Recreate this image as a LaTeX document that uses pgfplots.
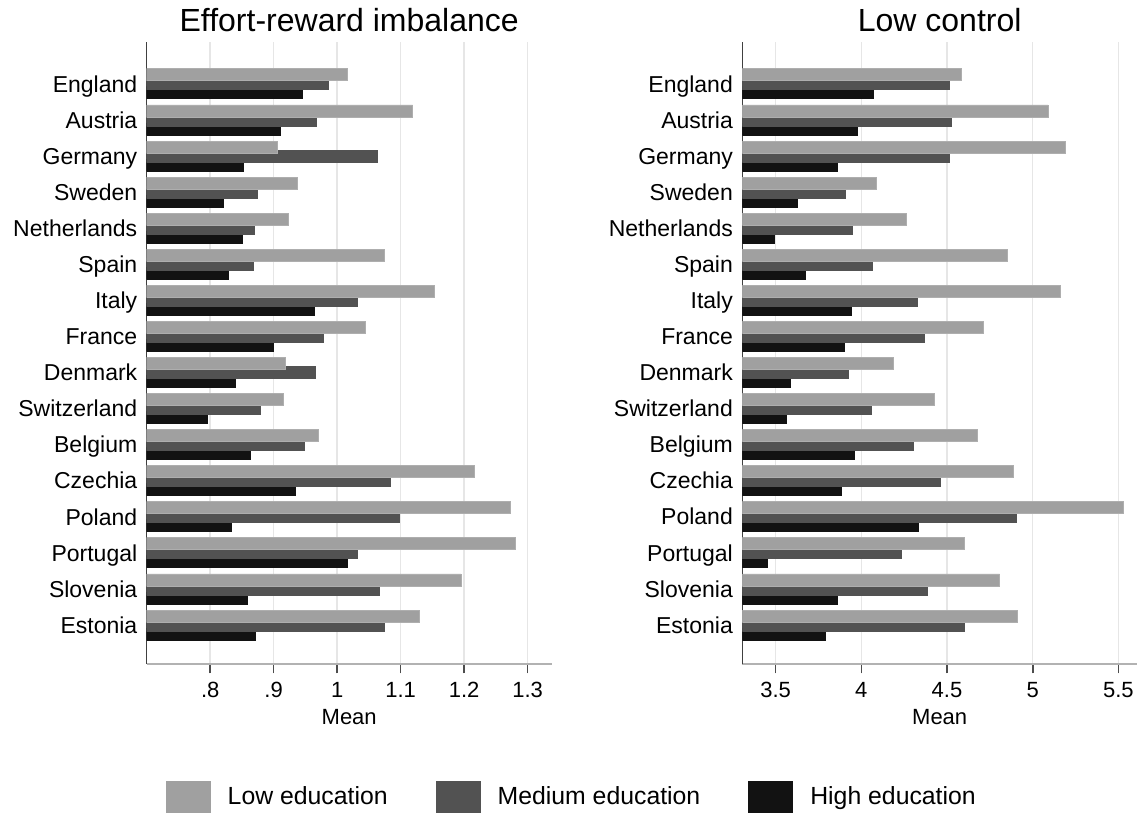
\documentclass[border=0pt]{standalone}
\usepackage{pgfplots}
\pgfplotsset{compat=1.18}
\usepackage{pgfplotstable}
\usepackage{fontspec}
\setmainfont{Liberation Sans}

\definecolor{lowc}{HTML}{A0A0A0}
\definecolor{medc}{HTML}{525252}
\definecolor{highc}{HTML}{121212}
\definecolor{gridc}{HTML}{E6E6E6}

% pos: 16 = England (top) ... 1 = Estonia (bottom)
\pgfplotstableread{
pos eriLow eriMed eriHigh lcLow lcMed lcHigh
16 1.016 0.987 0.946 4.586 4.516 4.070
15 1.119 0.968 0.911 5.089 4.527 3.977
14 0.906 1.064 0.853 5.189 4.516 3.858
13 0.937 0.875 0.821 4.088 3.907 3.625
12 0.924 0.870 0.851 4.265 3.947 3.490
11 1.075 0.868 0.829 4.850 4.064 3.671
10 1.154 1.032 0.964 5.160 4.327 3.942
9  1.045 0.979 0.900 4.714 4.370 3.899
8  0.919 0.965 0.840 4.189 3.924 3.589
7  0.916 0.879 0.796 4.428 4.058 3.560
6  0.970 0.948 0.864 4.679 4.305 3.959
5  1.217 1.084 0.934 4.885 4.463 3.881
4  1.273 1.098 0.834 5.529 4.903 4.333
3  1.281 1.032 1.016 4.603 4.233 3.453
2  1.195 1.067 0.859 4.807 4.385 3.858
1  1.129 1.075 0.872 4.909 4.603 3.788
}\data

\pgfplotsset{
  panel/.style={
    xbar, scale only axis, height=311pt,
    bar width=6pt,
    ymin=-0.08, ymax=17.16,
    ytick={1,...,16},
    yticklabels={Estonia,Slovenia,Portugal,Poland,Czechia,Belgium,Switzerland,Denmark,France,Italy,Spain,Netherlands,Sweden,Germany,Austria,England},
    axis x line*=bottom, axis y line*=left,
    x axis line style={-, draw=black!30, line width=0.7pt},
    y axis line style={-, draw=black!75, line width=0.8pt},
    xmajorgrids, grid style={gridc, line width=0.7pt},
    tick align=outside, major tick length=4.7pt,
    xtick style={draw=black!70, line width=0.8pt},
    ytick style={draw=none},
    /pgf/number format/assume math mode=true,
    xticklabel style={font=\fontsize{11}{13}\selectfont, yshift=-1pt},
    yticklabel style={font=\fontsize{11.5}{13}\selectfont, text height=8.2pt, text depth=0pt, xshift=3.5pt},
    xlabel={Mean},
    xlabel style={font=\fontsize{11}{13}\selectfont, yshift=1pt},
    title style={font=\fontsize{16}{19}\selectfont, anchor=south, at={(0.5,1)}, yshift=-1pt, inner sep=0pt},
    legend image code/.code={\draw[#1, draw=none] (0pt,-8pt) rectangle (22.5pt,8pt); \path[draw=none, fill=none] (22.5pt,0pt) -- (29pt,0pt);},
  },
  lowbar/.style={fill=lowc, draw=lowc!85!white, line width=0.4pt, bar shift=4.5pt},
  medbar/.style={fill=medc, draw=medc, line width=0.4pt, bar shift=0pt},
  highbar/.style={fill=highc, draw=highc, line width=0.4pt, bar shift=-4.5pt},
}

\begin{document}
\begin{tikzpicture}
\useasboundingbox (0,0) rectangle (568.5pt,-406.5pt);

\begin{axis}[panel,
  at={(73.35pt,-332pt)}, anchor=south west,
  width=202.5pt,
  xmin=0.7, xmax=1.338,
  xtick={0.8,0.9,1,1.1,1.2,1.3},
  xticklabels={.8,.9,1,1.1,1.2,1.3},
  title={Effort-reward imbalance},
  legend columns=3,
  legend style={at={(1.052,-0.2138)}, anchor=center, draw=none, fill=none,
    font=\fontsize{12.4}{14}\selectfont,
    /tikz/every even column/.append style={column sep=22pt}},
]
\addlegendimage{lowbar}
\addlegendimage{medbar}
\addlegendimage{highbar}
\addplot[highbar, forget plot] table[x=eriHigh, y=pos] {\data};
\addplot[medbar, forget plot] table[x=eriMed, y=pos] {\data};
\addplot[lowbar, forget plot] table[x=eriLow, y=pos] {\data};
\legend{Low education, Medium education, High education}
\end{axis}

\begin{axis}[panel,
  at={(371.15pt,-332pt)}, anchor=south west,
  width=197.4pt,
  xmin=3.3055, xmax=5.609,
  xtick={3.5,4,4.5,5,5.5},
  xticklabels={3.5,4,4.5,5,5.5},
  title={Low control},
]
\addplot[highbar] table[x=lcHigh, y=pos] {\data};
\addplot[medbar] table[x=lcMed, y=pos] {\data};
\addplot[lowbar] table[x=lcLow, y=pos] {\data};
\end{axis}
\end{tikzpicture}
\end{document}
